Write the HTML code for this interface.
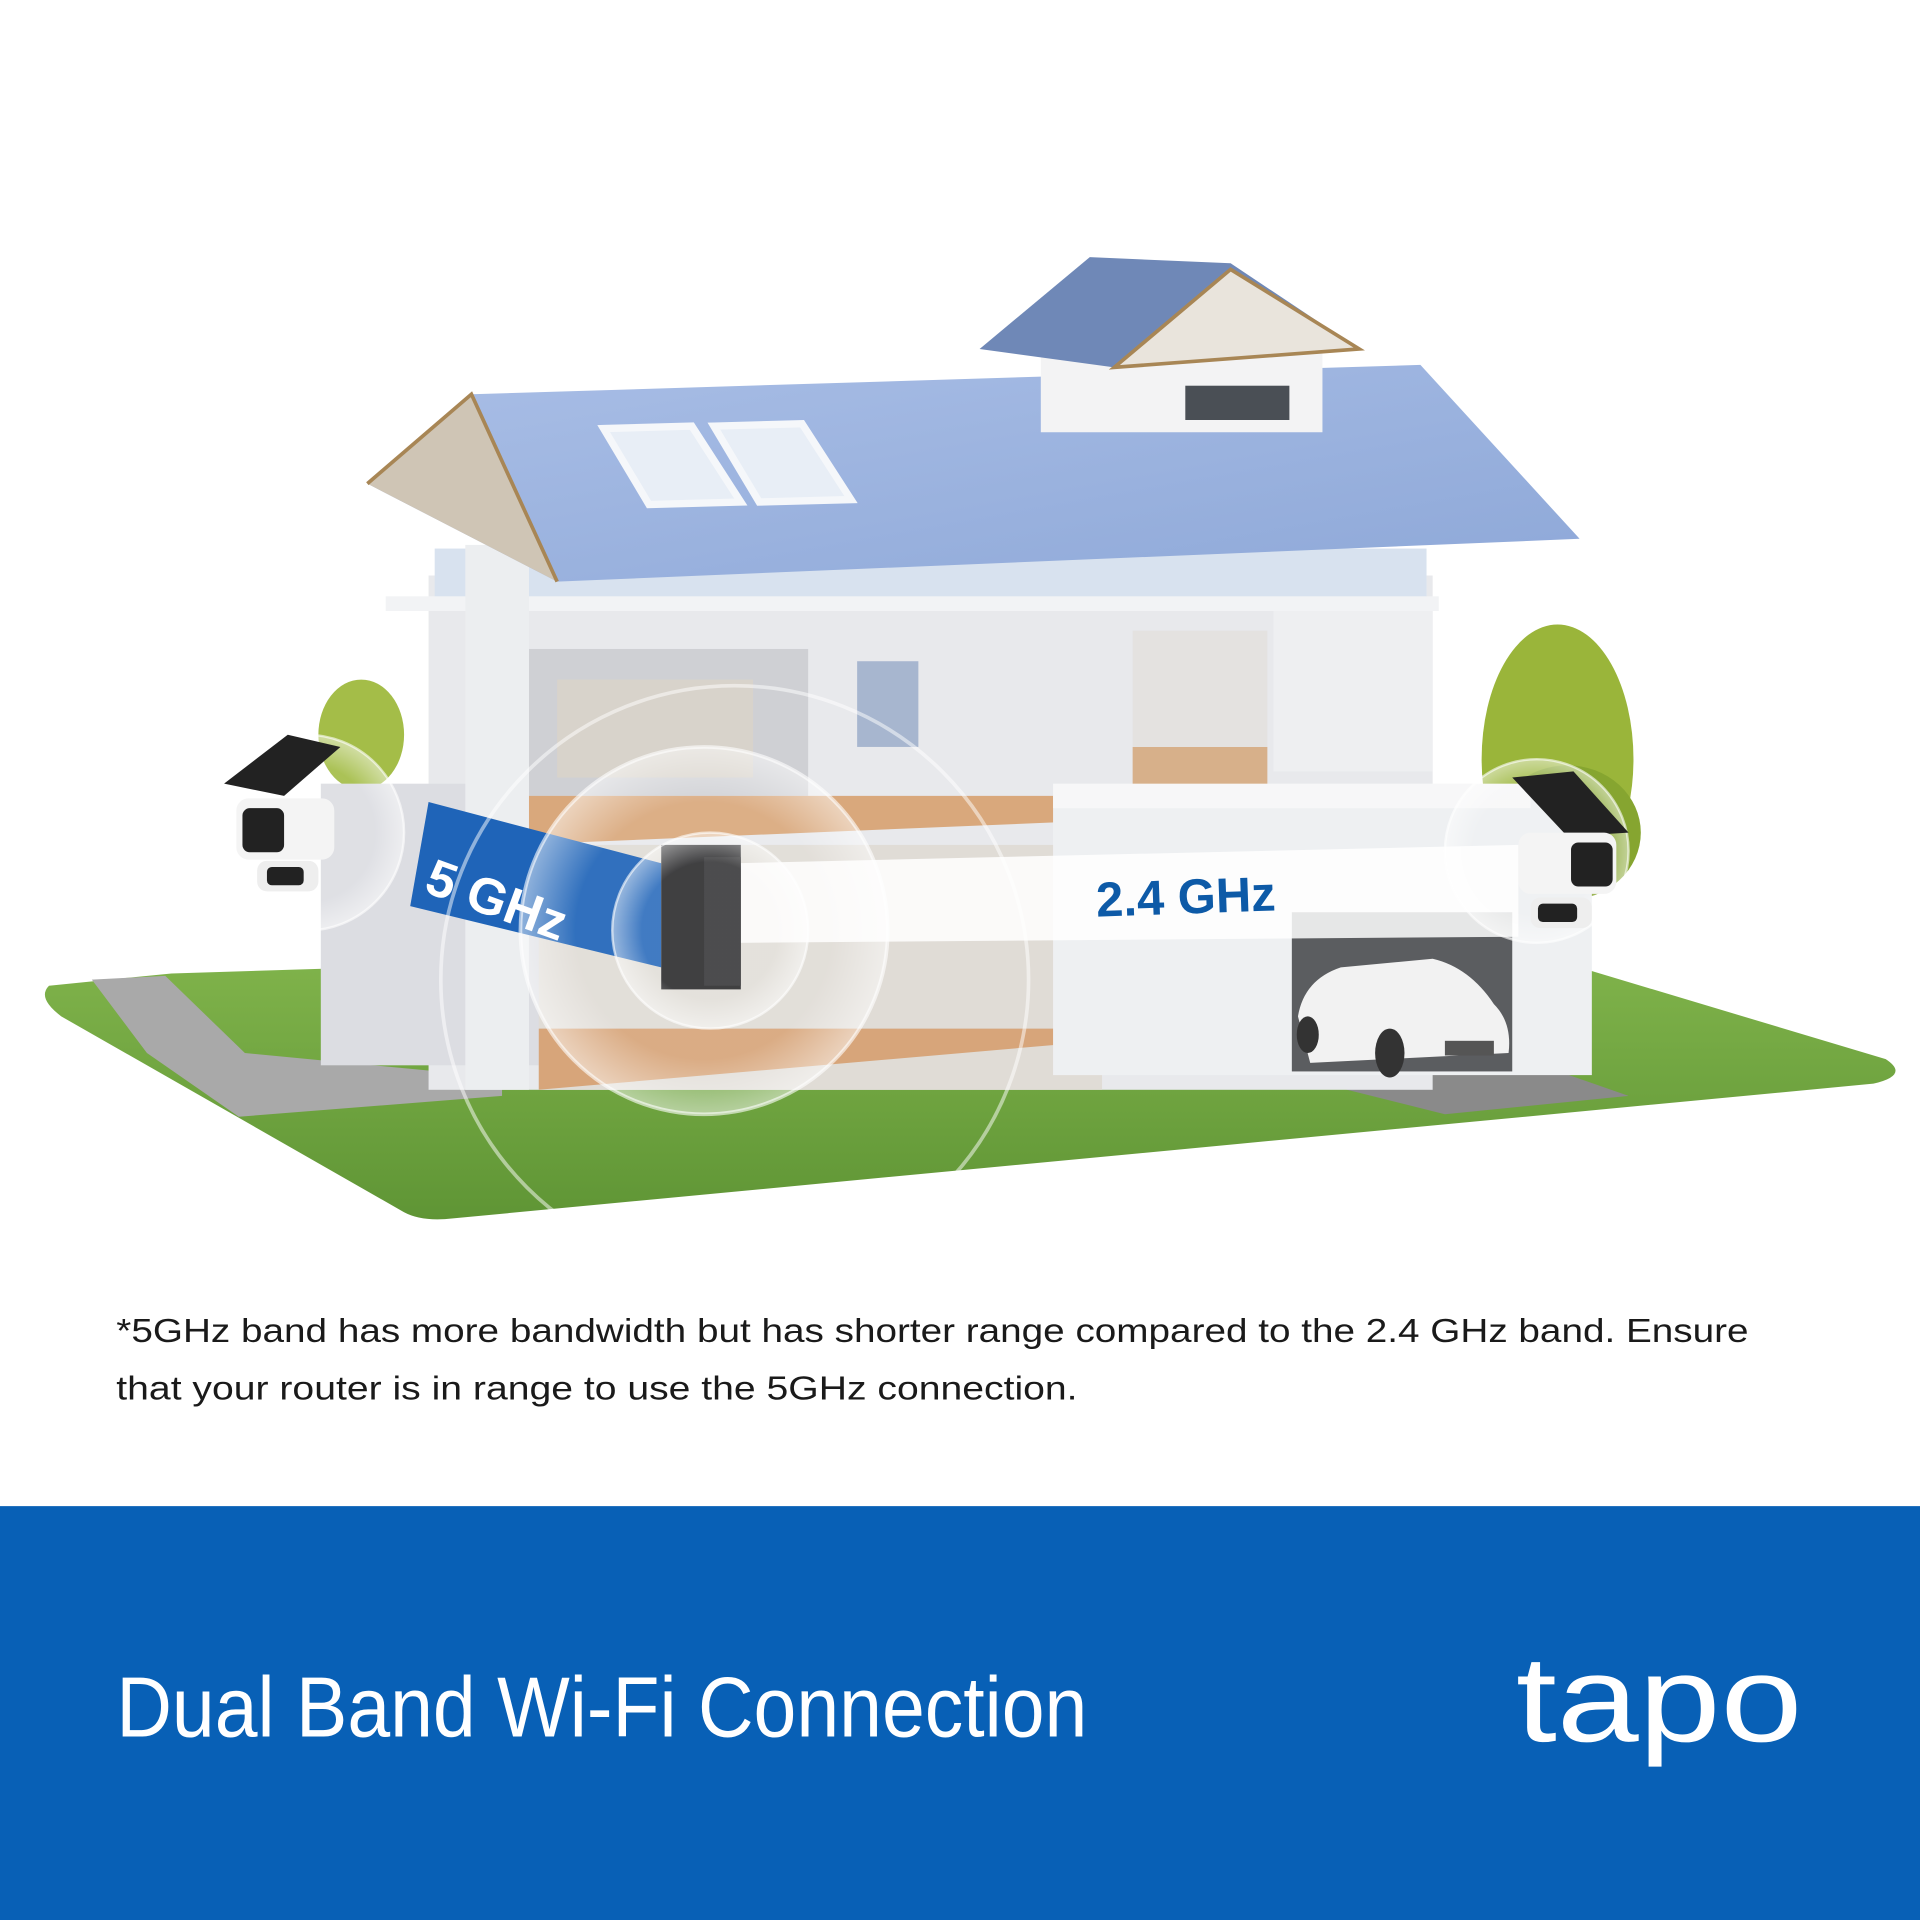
<!DOCTYPE html>
<html><head><meta charset="utf-8"><style>
html,body{margin:0;padding:0;background:#fff;width:1920px;height:1920px;overflow:hidden}
svg{display:block}
</style></head><body>
<svg width="1920" height="1920" viewBox="0 0 1568 1568" xmlns="http://www.w3.org/2000/svg">
<defs>
<radialGradient id="bub" cx="50%" cy="50%" r="50%">
<stop offset="0.7" stop-color="#ffffff" stop-opacity="0.08"/>
<stop offset="1" stop-color="#ffffff" stop-opacity="0.5"/>
</radialGradient>
<linearGradient id="grass" x1="0" y1="0" x2="0" y2="1">
<stop offset="0" stop-color="#7fb24a"/><stop offset="1" stop-color="#5f9535"/>
</linearGradient>
<linearGradient id="roof" x1="0" y1="0" x2="1" y2="1">
<stop offset="0" stop-color="#a9bee6"/><stop offset="1" stop-color="#8ea8d8"/>
</linearGradient>
</defs>
<rect width="1568" height="1568" fill="#fff"/>
<path d="M40 805 Q30 815 50 830 L330 990 Q345 998 370 995 L1530 885 Q1560 878 1540 865 L1290 790 L1100 805 L300 790 L140 795 Z" fill="url(#grass)"/>
<polygon points="75,800 135,797 200,860 410,880 410,895 195,912 120,860" fill="#a9a9a9"/>
<polygon points="1055,860 1230,860 1330,895 1180,910 1060,880" fill="#8a8a8a"/>
<ellipse cx="1272" cy="620" rx="62" ry="110" fill="#9ab53a"/>
<ellipse cx="1280" cy="680" rx="60" ry="55" fill="#86a530"/>
<ellipse cx="295" cy="600" rx="35" ry="45" fill="#a4bd48"/>
<rect x="350" y="470" width="820" height="420" fill="#e8e9ec"/>
<rect x="262" y="640" width="190" height="230" fill="#dcdde2"/>
<rect x="430" y="530" width="230" height="120" fill="#cfd0d4"/>
<rect x="455" y="555" width="160" height="80" fill="#d8d3cb"/>
<rect x="440" y="690" width="460" height="200" fill="#e0dcd6"/>
<polygon points="440,840 900,840 900,850 440,890" fill="#d7a57a"/>
<rect x="925" y="515" width="110" height="135" fill="#e4e2e0"/>
<polygon points="925,610 1035,610 1035,650 925,650" fill="#d7b08a"/>
<polygon points="400,650 880,650 900,670 420,690" fill="#d9a87c"/>
<rect x="700" y="540" width="50" height="70" fill="#a7b6cf"/>
<rect x="1040" y="490" width="130" height="140" fill="#eeeff1"/>
<rect x="355" y="448" width="810" height="42" fill="#d8e2ef"/>
<rect x="315" y="487" width="860" height="12" fill="#f2f3f5"/>
<rect x="380" y="445" width="52" height="445" fill="#eceef0"/>
<rect x="860" y="650" width="440" height="228" fill="#eef0f2"/>
<rect x="860" y="640" width="390" height="20" fill="#f7f7f8"/>
<rect x="1055" y="745" width="180" height="130" fill="#5b5d60"/>
<path d="M1060 830 Q1065 800 1095 790 L1170 783 Q1200 790 1220 820 Q1235 835 1232 860 L1070 868 Z" fill="#f2f2f2"/>
<ellipse cx="1135" cy="860" rx="12" ry="20" fill="#333"/>
<ellipse cx="1068" cy="845" rx="9" ry="15" fill="#333"/>
<rect x="1180" y="850" width="40" height="12" fill="#555"/>
<polygon points="300,395 385,322 1160,298 1290,440 455,475" fill="url(#roof)"/>
<polygon points="300,395 385,322 455,475" fill="#cfc5b5"/>
<polyline points="300,395 385,322 455,475" fill="none" stroke="#a88655" stroke-width="3"/>
<polygon points="493,350 565,348 605,410 530,412" fill="#e8eef6" stroke="#f5f7fa" stroke-width="6"/>
<polygon points="583,348 655,346 695,408 620,410" fill="#e8eef6" stroke="#f5f7fa" stroke-width="6"/>
<rect x="850" y="285" width="230" height="68" fill="#f3f3f4"/>
<rect x="968" y="315" width="85" height="28" fill="#4a4f55"/>
<polygon points="800,285 890,210 1005,215 1110,285 910,300" fill="#6f88b7"/>
<polygon points="910,300 1005,220 1110,285" fill="#e9e4dc" stroke="#a88655" stroke-width="3"/>
<polygon points="600,705 1240,690 1240,765 600,770" fill="#ffffff" opacity="0.85"/>
<text x="895" y="746" font-family="Liberation Sans, sans-serif" font-weight="bold" font-size="40" fill="#0d5aa7" transform="rotate(-2 970 730)">2.4 GHz</text>
<polygon points="350,655 540,705 540,790 335,740" fill="#1f64b8"/>
<text x="345" y="728" font-family="Liberation Sans, sans-serif" font-weight="bold" font-size="42" fill="#fff" transform="rotate(20 345 728)">5 GHz</text>
<rect x="540" y="690" width="65" height="118" fill="#1d1d1f"/>
<rect x="575" y="700" width="30" height="105" fill="#2c2c2e"/>
<circle cx="575" cy="760" r="150" fill="url(#bub)" stroke="#ffffff" stroke-opacity="0.6" stroke-width="3"/>
<circle cx="580" cy="760" r="80" fill="url(#bub)" stroke="#fff" stroke-opacity="0.6" stroke-width="2"/>
<circle cx="600" cy="800" r="240" fill="none" stroke="#fff" stroke-opacity="0.5" stroke-width="3"/>
<circle cx="1255" cy="695" r="75" fill="url(#bub)" stroke="#fff" stroke-opacity="0.6" stroke-width="2"/>
<circle cx="250" cy="680" r="80" fill="url(#bub)" stroke="#fff" stroke-opacity="0.6" stroke-width="2"/>
<polygon points="183,640 235,600 278,610 232,650" fill="#222"/>
<rect x="193" y="652" width="80" height="50" rx="10" fill="#f4f4f4"/>
<rect x="198" y="660" width="34" height="36" rx="6" fill="#222"/>
<rect x="210" y="703" width="50" height="25" rx="8" fill="#eee"/>
<rect x="218" y="708" width="30" height="15" rx="4" fill="#222"/>
<polygon points="1235,635 1285,630 1330,680 1280,683" fill="#222"/>
<rect x="1240" y="680" width="80" height="50" rx="10" fill="#f4f4f4"/>
<rect x="1283" y="688" width="34" height="36" rx="6" fill="#222"/>
<rect x="1250" y="733" width="50" height="25" rx="8" fill="#eee"/>
<rect x="1256" y="738" width="32" height="15" rx="4" fill="#222"/>
<text font-family="Liberation Sans, sans-serif" font-size="27" fill="#1a1a1a">
<tspan x="95" y="1096" textLength="1333" lengthAdjust="spacingAndGlyphs">*5GHz band has more bandwidth but has shorter range compared to the 2.4 GHz band. Ensure</tspan>
<tspan x="95" y="1143" textLength="785" lengthAdjust="spacingAndGlyphs">that your router is in range to use the 5GHz connection.</tspan>
</text>
<rect x="0" y="1230" width="1568" height="338" fill="#0860b6"/>
<text x="95" y="1418" font-family="Liberation Sans, sans-serif" font-size="70" fill="#fff" textLength="793" lengthAdjust="spacingAndGlyphs">Dual Band Wi-Fi Connection</text>
<text x="1238" y="1422" font-family="Liberation Sans, sans-serif" font-size="100" fill="#fff" textLength="234" lengthAdjust="spacingAndGlyphs">tapo</text>
</svg>
</body></html>
